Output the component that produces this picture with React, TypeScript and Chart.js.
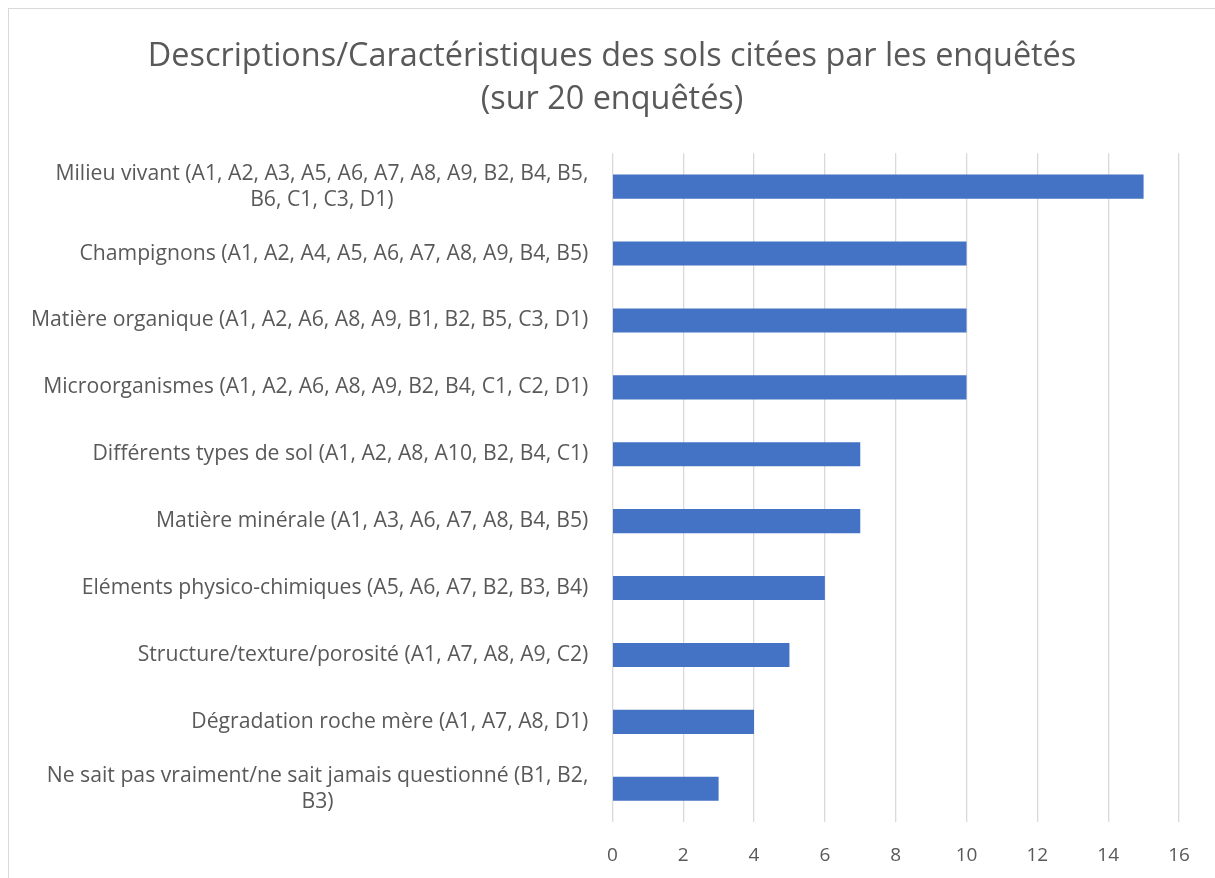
import React, { useEffect, useRef } from "react";
import { Chart, registerables } from "chart.js";

Chart.register(...registerables);

const TITLE_LINES = [
  "Descriptions/Caractéristiques des sols citées par les enquêtés",
  "(sur 20 enquêtés)",
];

const CATEGORIES: (string | string[])[] = [
  ["Milieu vivant (A1, A2, A3, A5, A6, A7, A8, A9, B2, B4, B5,", "B6, C1, C3, D1)"],
  "Champignons (A1, A2, A4, A5, A6, A7, A8, A9, B4, B5)",
  "Matière organique (A1, A2, A6, A8, A9, B1, B2, B5, C3, D1)",
  "Microorganismes (A1, A2, A6, A8, A9, B2, B4, C1, C2, D1)",
  "Différents types de sol (A1, A2, A8, A10, B2, B4, C1)",
  "Matière minérale (A1, A3, A6, A7, A8, B4, B5)",
  "Eléments physico-chimiques (A5, A6, A7, B2, B3, B4)",
  "Structure/texture/porosité (A1, A7, A8, A9, C2)",
  "Dégradation roche mère (A1, A7, A8, D1)",
  ["Ne sait pas vraiment/ne sait jamais questionné (B1, B2,", "B3)"],
];

const VALUES = [15, 10, 10, 10, 7, 7, 6, 5, 4, 3];

const X_MIN = 0;
const X_MAX = 16;
const X_STEP = 2;

const FONT_FAMILY = "'Open Sans', 'Noto Sans', sans-serif";
const TEXT_COLOR = "#595959";
const LABEL_SIZE = 21.2;
const LABEL_LINE_HEIGHT = 26;
const LABEL_PAD = 24;

const centeredLabels = {
  id: "centeredLabels",
  afterDraw(chart: any) {
    const scale = chart.scales.y;
    const ctx = chart.ctx;
    ctx.save();
    ctx.font = `${LABEL_SIZE}px ${FONT_FAMILY}`;
    ctx.fillStyle = TEXT_COLOR;
    ctx.textAlign = "center";
    ctx.textBaseline = "middle";
    const right = scale.right - LABEL_PAD;
    scale.ticks.forEach((_t: any, i: number) => {
      const raw = CATEGORIES[i];
      const lines = Array.isArray(raw) ? raw : [raw];
      const w = Math.max(...lines.map((l) => ctx.measureText(l).width));
      const cx = right - w / 2;
      const cy = scale.getPixelForTick(i);
      const start = cy - ((lines.length - 1) * LABEL_LINE_HEIGHT) / 2;
      lines.forEach((l, k) => ctx.fillText(l, cx, start + k * LABEL_LINE_HEIGHT));
    });
    ctx.restore();
  },
};

export default function App() {
  const ref = useRef<HTMLCanvasElement>(null);
  useEffect(() => {
    if (!ref.current) return;
    const chart = new Chart(ref.current, {
      type: "bar",
      data: {
        labels: CATEGORIES,
        datasets: [
          {
            data: VALUES,
            backgroundColor: "#4472C4",
            borderWidth: 0,
            barPercentage: 0.36,
            categoryPercentage: 1,
          },
        ],
      },
      options: {
        indexAxis: "y",
        animation: false,
        responsive: false,
        layout: { padding: { left: 36, right: 36, top: 0, bottom: 11 } },
        plugins: {
          legend: { display: false },
          tooltip: { enabled: false },
          title: {
            display: true,
            text: TITLE_LINES,
            color: TEXT_COLOR,
            font: { family: FONT_FAMILY, size: 32.4, weight: "normal", lineHeight: 1.33 },
            padding: { top: 26, bottom: 32 },
          },
        },
        scales: {
          x: {
            min: X_MIN,
            max: X_MAX,
            ticks: {
              stepSize: X_STEP,
              color: TEXT_COLOR,
              font: { family: FONT_FAMILY, size: 19 },
              padding: 22,
            },
            grid: { color: "#d9d9d9", lineWidth: 1.3, drawTicks: false },
            border: { display: false },
          },
          y: {
            afterFit: (scale: any) => {
              scale.width += 10;
            },
            ticks: {
              color: "transparent",
              font: { family: FONT_FAMILY, size: LABEL_SIZE, lineHeight: 0.05 },
              padding: 0,
              autoSkip: false,
            },
            grid: { display: false, drawTicks: false },
            border: { display: false },
          },
        },
      },
      plugins: [centeredLabels],
    });
    return () => chart.destroy();
  }, []);
  return (
    <div
      style={{
        position: "fixed",
        left: 8,
        top: 8,
        right: 0,
        bottom: 0,
        borderTop: "1.5px solid #d9d9d9",
        borderLeft: "1.5px solid #d9d9d9",
        background: "#fff",
        overflow: "hidden",
      }}
    >
      <canvas ref={ref} width={1206} height={891} style={{ display: "block" }} />
    </div>
  );
}
